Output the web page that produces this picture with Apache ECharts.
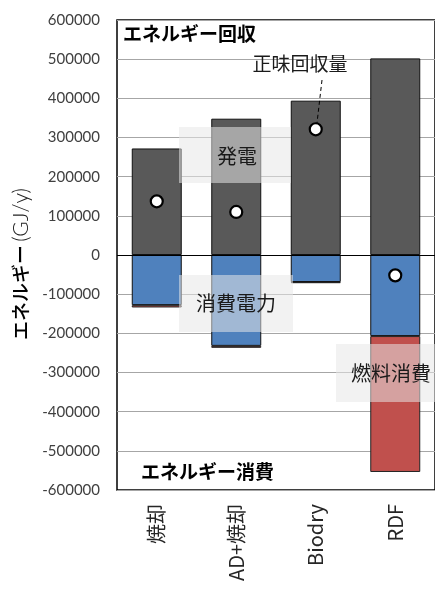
<!DOCTYPE html>
<html>
<head>
<meta charset="utf-8">
<script src="https://cdn.jsdelivr.net/npm/echarts@6/dist/echarts.min.js"></script>
<style>
  html, body { margin: 0; padding: 0; background: #fff; }
  #chart { width: 435px; height: 589px; }
</style>
</head>
<body>
<div id="chart"></div>
<script>
// Treatment options along the x axis
const categories = ['焼却', 'AD+焼却', 'Biodry', 'RDF'];
// Energy recovered as electricity (GJ/y)
const generation = [272000, 348000, 394000, 502000];
// Electricity consumed (GJ/y)
const powerUse = [-128000, -232000, -69000, -207000];
// Fuel consumed (GJ/y)
const fuelUse = [-6000, -5000, -3000, -347000];
// Net energy recovered (GJ/y)
const netRecovery = [137000, 110000, 321000, -52000];
// Value axis range
const yMin = -600000, yMax = 600000, yStep = 100000;

const jp = '"Noto Sans CJK JP", "Noto Sans", sans-serif';
const num = 'Lato, "Noto Sans", sans-serif';

const chart = echarts.init(document.getElementById('chart'), null, { renderer: 'canvas' });

const boxFill = 'rgba(231,231,231,0.54)';

chart.setOption({
  animation: false,
  backgroundColor: '#ffffff',
  grid: {
    left: 117, top: 20, width: 320, height: 470,
    show: true, borderColor: '#000', borderWidth: 1.5, backgroundColor: 'transparent'
  },
  xAxis: {
    type: 'category',
    data: categories,
    axisLine: { onZero: false, show: false },
    axisTick: { show: false },
    axisLabel: {
      rotate: 90, margin: 14, color: '#262626', fontSize: 20,
      fontFamily: jp
    }
  },
  yAxis: {
    type: 'value',
    min: yMin, max: yMax, interval: yStep,
    axisLine: { show: false },
    axisTick: { show: false },
    axisLabel: {
      color: '#404040', fontSize: 15, fontFamily: num, margin: 17,
      formatter: v => String(v)
    },
    splitLine: { lineStyle: { color: '#a6a6a6', width: 1 } },
    name: '{a|エネルギー} {b|(GJ/y)}',
    nameLocation: 'middle',
    nameGap: 80,
    nameRotate: 90,
    nameTextStyle: {
      rich: {
        a: { fontSize: 19, fontFamily: jp, color: '#000', fontWeight: 500 },
        b: { fontSize: 21, fontFamily: num, color: '#222', fontWeight: 300, padding: [0, 18, 0, 0] }
      }
    }
  },
  series: [
    {
      name: '発電', type: 'bar', stack: 'energy', data: generation,
      barWidth: 50,
      itemStyle: { color: '#595959', borderColor: '#111', borderWidth: 1 },
      markLine: {
        silent: true, symbol: 'none', label: { show: false },
        lineStyle: { color: '#000', width: 1.2, type: 'solid' },
        data: [{ yAxis: 0 }]
      }
    },
    {
      name: '消費電力', type: 'bar', stack: 'energy', data: powerUse,
      barWidth: 50,
      itemStyle: { color: '#4f81bd', borderColor: '#111', borderWidth: 1 }
    },
    {
      name: '燃料消費', type: 'bar', stack: 'energy', data: fuelUse,
      barWidth: 50,
      itemStyle: { color: '#c0504d', borderColor: '#222', borderWidth: 1 }
    },
    {
      name: '正味回収量', type: 'scatter', data: netRecovery,
      symbol: 'circle', symbolSize: 12, z: 5,
      itemStyle: { color: '#fff', borderColor: '#000', borderWidth: 2.2, opacity: 1 }
    }
  ],
  graphic: [
    // section headings
    { type: 'text', left: 123, top: 24, z: 20,
      style: { text: 'エネルギー回収', font: 'bold 19px ' + jp, fill: '#000' } },
    { type: 'text', left: 141, top: 462, z: 20,
      style: { text: 'エネルギー消費', font: 'bold 19px ' + jp, fill: '#000' } },
    // callout boxes
    { type: 'rect', shape: { x: 179, y: 127, width: 112, height: 56 }, z: 20,
      style: { fill: boxFill } },
    { type: 'text', x: 237, y: 156, z: 21,
      style: { text: '発電', font: '20px ' + jp, fill: '#1a1a1a', align: 'center', verticalAlign: 'middle' } },
    { type: 'rect', shape: { x: 179, y: 275, width: 114, height: 57 }, z: 20,
      style: { fill: boxFill } },
    { type: 'text', x: 236, y: 303, z: 21,
      style: { text: '消費電力', font: '20px ' + jp, fill: '#1a1a1a', align: 'center', verticalAlign: 'middle' } },
    { type: 'rect', shape: { x: 336, y: 344, width: 100, height: 58 }, z: 20,
      style: { fill: boxFill } },
    { type: 'text', x: 391, y: 373, z: 21,
      style: { text: '燃料消費', font: '20px ' + jp, fill: '#1a1a1a', align: 'center', verticalAlign: 'middle' } },
    // net recovery callout
    { type: 'text', x: 300, y: 64, z: 21,
      style: { text: '正味回収量', font: '19px ' + jp, fill: '#1a1a1a', align: 'center', verticalAlign: 'middle' } },
    { type: 'line', shape: { x1: 322, y1: 80, x2: 317, y2: 123 }, z: 21,
      style: { stroke: '#000', lineWidth: 1, lineDash: [4, 3] } }
  ]
});
</script>
</body>
</html>
